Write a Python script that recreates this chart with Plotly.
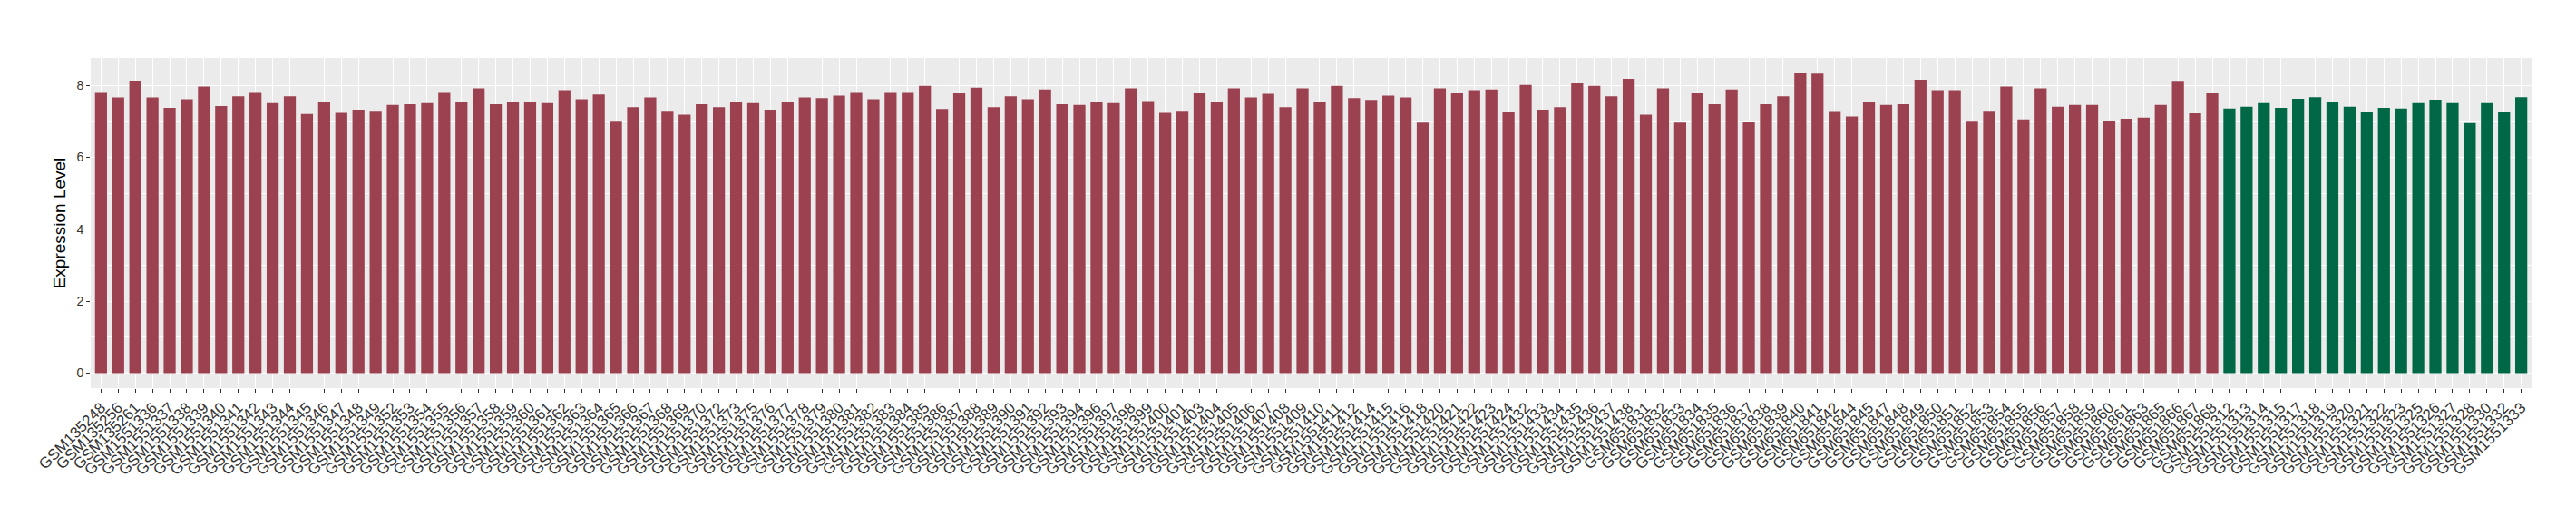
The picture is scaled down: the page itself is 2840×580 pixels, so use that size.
import plotly.graph_objects as go

red_samples = [
    "GSM135248", "GSM135256", "GSM135261", "GSM1551336", "GSM1551337", "GSM1551338",
    "GSM1551339", "GSM1551340", "GSM1551341", "GSM1551342", "GSM1551343", "GSM1551344",
    "GSM1551345", "GSM1551346", "GSM1551347", "GSM1551348", "GSM1551349", "GSM1551352",
    "GSM1551353", "GSM1551354", "GSM1551355", "GSM1551356", "GSM1551357", "GSM1551358",
    "GSM1551359", "GSM1551360", "GSM1551361", "GSM1551362", "GSM1551363", "GSM1551364",
    "GSM1551365", "GSM1551366", "GSM1551367", "GSM1551368", "GSM1551369", "GSM1551370",
    "GSM1551372", "GSM1551373", "GSM1551375", "GSM1551376", "GSM1551377", "GSM1551378",
    "GSM1551379", "GSM1551380", "GSM1551381", "GSM1551382", "GSM1551383", "GSM1551384",
    "GSM1551385", "GSM1551386", "GSM1551387", "GSM1551388", "GSM1551389", "GSM1551390",
    "GSM1551391", "GSM1551392", "GSM1551393", "GSM1551394", "GSM1551396", "GSM1551397",
    "GSM1551398", "GSM1551399", "GSM1551400", "GSM1551401", "GSM1551403", "GSM1551404",
    "GSM1551405", "GSM1551406", "GSM1551407", "GSM1551408", "GSM1551409", "GSM1551410",
    "GSM1551411", "GSM1551412", "GSM1551414", "GSM1551415", "GSM1551416", "GSM1551418",
    "GSM1551420", "GSM1551421", "GSM1551422", "GSM1551423", "GSM1551424", "GSM1551432",
    "GSM1551433", "GSM1551434", "GSM1551435", "GSM1551436", "GSM1551437", "GSM1551438",
    "GSM651831", "GSM651832", "GSM651833", "GSM651834", "GSM651835", "GSM651836",
    "GSM651837", "GSM651838", "GSM651839", "GSM651840", "GSM651841", "GSM651842",
    "GSM651844", "GSM651845", "GSM651847", "GSM651848", "GSM651849", "GSM651850",
    "GSM651851", "GSM651852", "GSM651853", "GSM651854", "GSM651855", "GSM651856",
    "GSM651857", "GSM651858", "GSM651859", "GSM651860", "GSM651861", "GSM651863",
    "GSM651865", "GSM651866", "GSM651867", "GSM651868",
]
red_values = [
    7.81, 7.66, 8.13, 7.66, 7.37, 7.61, 7.96, 7.42, 7.69, 7.81, 7.50, 7.69,
    7.20, 7.52, 7.23, 7.32, 7.29, 7.45, 7.47, 7.50, 7.81, 7.52, 7.91, 7.47,
    7.52, 7.52, 7.50, 7.86, 7.61, 7.74, 7.01, 7.39, 7.66, 7.29, 7.18, 7.47,
    7.39, 7.52, 7.50, 7.32, 7.54, 7.66, 7.64, 7.71, 7.81, 7.61, 7.81, 7.81,
    7.98, 7.34, 7.78, 7.93, 7.39, 7.69, 7.61, 7.88, 7.47, 7.45, 7.52, 7.50,
    7.91, 7.56, 7.23, 7.29, 7.78, 7.54, 7.91, 7.66, 7.76, 7.39, 7.91, 7.54,
    7.98, 7.64, 7.59, 7.71, 7.66, 6.96, 7.91, 7.78, 7.86, 7.88, 7.25, 8.01,
    7.32, 7.39, 8.05, 7.98, 7.69, 8.18, 7.18, 7.91, 6.96, 7.78, 7.47, 7.88,
    6.98, 7.47, 7.69, 8.34, 8.32, 7.28, 7.13, 7.52, 7.45, 7.47, 8.15, 7.86,
    7.86, 7.01, 7.29, 7.96, 7.05, 7.91, 7.40, 7.45, 7.45, 7.02, 7.07, 7.10,
    7.45, 8.12, 7.22, 7.79,
]

green_samples = [
    "GSM1551312", "GSM1551313", "GSM1551314", "GSM1551315", "GSM1551317", "GSM1551318",
    "GSM1551319", "GSM1551320", "GSM1551321", "GSM1551322", "GSM1551323", "GSM1551325",
    "GSM1551326", "GSM1551327", "GSM1551328", "GSM1551330", "GSM1551332", "GSM1551333",
]
green_values = [
    7.35, 7.40, 7.50, 7.37, 7.62, 7.67, 7.52, 7.40, 7.25, 7.37, 7.35, 7.50,
    7.60, 7.50, 6.95, 7.50, 7.25, 7.67,
]

y_ticks = [0, 2, 4, 6, 8]

all_samples = red_samples + green_samples
n = len(all_samples)
ymax = max(red_values + green_values) * 1.05
ymin = -max(red_values + green_values) * 0.05

fig = go.Figure()
fig.add_trace(go.Bar(x=red_samples, y=red_values, marker_color="#9B4150",
                     marker_line_width=0, width=0.7, showlegend=False))
fig.add_trace(go.Bar(x=green_samples, y=green_values, marker_color="#006846",
                     marker_line_width=0, width=0.7, showlegend=False))

fig.update_layout(
    width=2840, height=580,
    margin=dict(l=92, r=57, t=56, b=160),
    paper_bgcolor="white",
    plot_bgcolor="#EBEBEB",
    barmode="overlay",
    font=dict(family="Liberation Sans, Arial, sans-serif", color="#333333"),
)
fig.update_xaxes(
    type="category",
    categoryorder="array", categoryarray=all_samples,
    tickmode="array", tickvals=all_samples, ticktext=all_samples,
    range=[-0.6, n - 1 + 0.6],
    tickangle=-45,
    tickfont=dict(size=17, color="#333333"),
    ticks="outside", ticklen=4, tickcolor="#333333", tickwidth=1,
    showgrid=True, gridcolor="white", gridwidth=1,
    showline=False, zeroline=False, automargin=False,
)
fig.update_yaxes(
    range=[ymin, ymax],
    tickvals=y_ticks, ticktext=[str(v) for v in y_ticks],
    tickfont=dict(size=14, color="#333333"),
    ticks="outside", ticklen=4, tickcolor="#333333", tickwidth=1,
    showgrid=True, gridcolor="white", gridwidth=1.2,
    minor=dict(tickvals=[1, 3, 5, 7], showgrid=True, gridcolor="white", gridwidth=0.6, ticks=""),
    zeroline=False, showline=False, automargin=False,
    title=dict(text="Expression Level", font=dict(size=19, color="black"), standoff=6),
)

fig.write_html("out.html")
